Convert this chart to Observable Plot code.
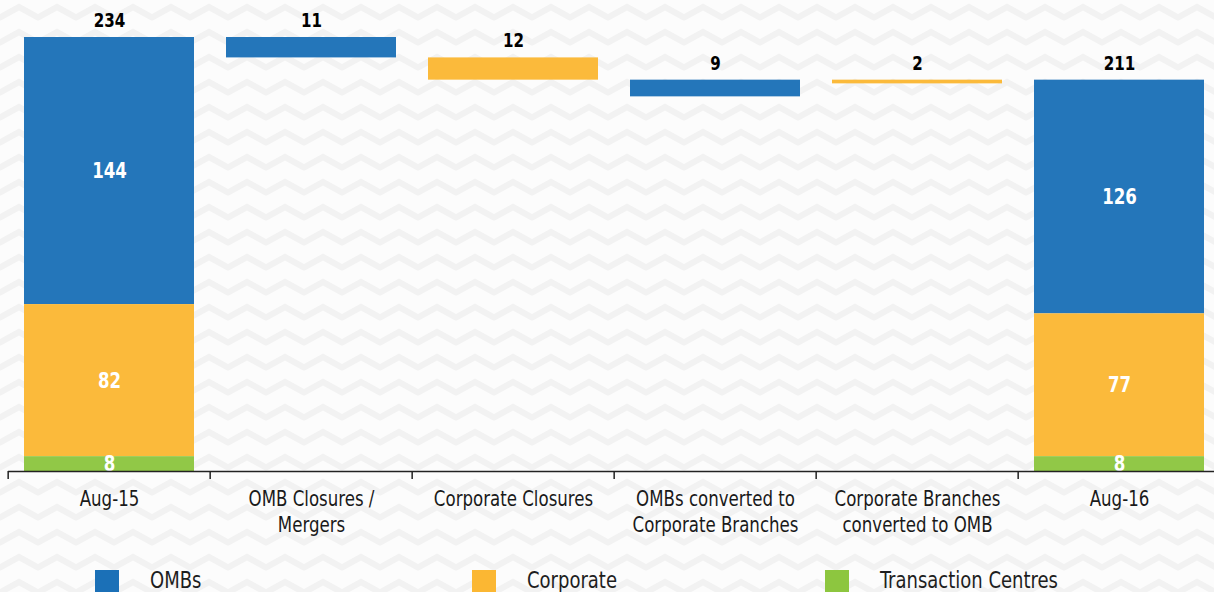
<!DOCTYPE html>
<html>
<head>
<meta charset="utf-8">
<script src="https://cdn.jsdelivr.net/npm/d3@7"></script>
<script src="https://cdn.jsdelivr.net/npm/@observablehq/plot@0.6"></script>
<style>
  html, body { margin: 0; padding: 0; }
  body {
    width: 1214px; height: 592px; overflow: hidden;
    background-color: #fcfcfc;
    background-image: url("data:image/svg+xml;utf8,<svg xmlns='http://www.w3.org/2000/svg' width='38' height='25'><polyline points='-1,18 19,7 39,18' fill='none' stroke='%23f2f2f2' stroke-width='6'/></svg>");
    font-family: "DejaVu Sans Condensed", "Liberation Sans", sans-serif;
  }
  #chart svg { display: block; }
  #legend { position: relative; height: 32px; margin-top: 7px; }
  .item { position: absolute; top: 0; display: flex; align-items: center; font-size: 23px; color: #1e1e1e; }
  .sw { width: 24px; height: 22px; margin-right: 31px; margin-top: 2px; flex: none; }
  .item span { display: inline-block; transform: scaleX(0.87); transform-origin: left center; white-space: nowrap; }
</style>
</head>
<body>
<div id="chart"></div>
<div id="legend"></div>
<script>
// ---- data ----
const categories = [
  "Aug-15",
  "OMB Closures /\nMergers",
  "Corporate Closures",
  "OMBs converted to\nCorporate Branches",
  "Corporate Branches\nconverted to OMB",
  "Aug-16"
];
const seriesNames = ["OMBs", "Corporate", "Transaction Centres"];
const seriesColors = ["#1b70b7", "#fbb733", "#8dc63f"];
const stackOrder = ["Transaction Centres", "Corporate", "OMBs"]; // bottom to top

const aug15Values = [144, 82, 8];   // OMBs, Corporate, Transaction Centres
const aug16Values = [126, 77, 8];
const totals = [234, 211];

const changeCategories = [categories[1], categories[2], categories[3], categories[4]];
const changeValues = [11, 12, 9, 2];
const changeSeries = ["OMBs", "Corporate", "OMBs", "Corporate"];
const changeNet = [-11, -12, 0, 0]; // effect on the grand total

// ---- build tables ----
const stackRows = [];
seriesNames.forEach((s, i) => {
  stackRows.push({cat: categories[0], series: s, value: aug15Values[i]});
  stackRows.push({cat: categories[5], series: s, value: aug16Values[i]});
});
const totalRows = [
  {cat: categories[0], value: totals[0]},
  {cat: categories[5], value: totals[1]}
];
let level = totals[0];
const changeRows = changeValues.map((v, i) => {
  const row = {cat: changeCategories[i], series: changeSeries[i], value: v, top: level, bottom: level - v};
  level += changeNet[i];
  return row;
});

// ---- layout ----
const W = 1214, H = 560;
const xRange = [6, 1222];
const step = (xRange[1] - xRange[0]) / categories.length;
const font = '"DejaVu Sans Condensed", "Liberation Sans", sans-serif';

const plot = Plot.plot({
  width: W,
  height: H,
  marginTop: 37,
  marginBottom: 89,
  marginLeft: 8,
  marginRight: 0,
  style: {background: "transparent", fontFamily: font, color: "#1a1a1a", overflow: "visible"},
  x: {domain: categories, range: xRange, paddingInner: 0.16, paddingOuter: 0.08, label: null},
  y: {domain: [0, d3.max(totals)], axis: null},
  color: {domain: seriesNames, range: seriesColors},
  marks: [
    Plot.barY(stackRows, Plot.stackY({x: "cat", y: "value", z: "series", fill: "series", order: stackOrder, fillOpacity: 0.96})),
    Plot.barY(changeRows, {x: "cat", y1: "top", y2: "bottom", fill: "series", fillOpacity: 0.96}),
    Plot.text(stackRows, Plot.stackY({x: "cat", y: "value", z: "series", order: stackOrder, text: "value",
      fill: "white", fontSize: 22, fontWeight: "bold"})),
    Plot.text(totalRows, {x: "cat", y: "value", text: "value", dy: -17, fontSize: 20, fontWeight: "bold", fill: "#000"}),
    Plot.text(changeRows, {x: "cat", y: "top", text: "value", dy: -17, fontSize: 20, fontWeight: "bold", fill: "#000"}),
    Plot.ruleY([0], {stroke: "#222", strokeWidth: 1.5}),
    Plot.ruleX(categories, {x: d => d, y1: 0, y2: 0, insetBottom: -8, dx: -step / 2, stroke: "#222", strokeWidth: 1.5}),
    Plot.axisX({tickSize: 0, tickPadding: 16, fontSize: 22, lineHeight: 1.18, fill: "#1a1a1a", label: null})
  ]
});
document.getElementById("chart").appendChild(plot);

// narrow the glyphs to match the condensed typeface of the original
function condense(root, factor) {
  root.querySelectorAll("text").forEach(t => {
    const spans = t.querySelectorAll("tspan");
    const targets = spans.length ? Array.from(spans) : [t];
    targets.forEach(el => {
      const len = el.getComputedTextLength();
      if (len > 0) {
        el.setAttribute("textLength", (len * factor).toFixed(1));
        el.setAttribute("lengthAdjust", "spacingAndGlyphs");
      }
    });
  });
}
condense(plot, 0.84);

// ---- legend ----
const legendLeft = [95, 472, 825];
const legend = document.getElementById("legend");
seriesNames.forEach((s, i) => {
  const item = document.createElement("div");
  item.className = "item";
  item.style.left = legendLeft[i] + "px";
  const sw = document.createElement("div");
  sw.className = "sw";
  sw.style.background = seriesColors[i];
  const label = document.createElement("span");
  label.textContent = s;
  item.appendChild(sw);
  item.appendChild(label);
  legend.appendChild(item);
});
</script>
</body>
</html>
